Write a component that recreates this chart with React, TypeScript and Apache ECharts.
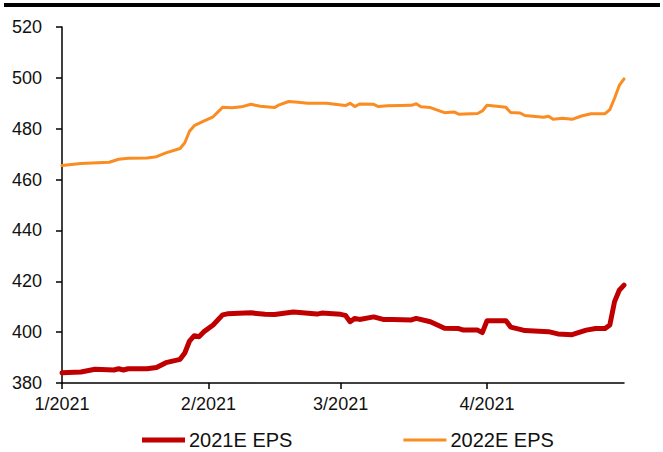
import React, { useEffect, useRef } from "react";
import * as echarts from "echarts";

// Calendar days from 1 Jan 2021 to 30 Apr 2021 (x categories)
const startDate = Date.UTC(2021, 0, 1);
const dayCount = 120;
const categories: string[] = Array.from({ length: dayCount }, (_, i) => {
  const d = new Date(startDate + i * 86400000);
  return `${d.getUTCMonth() + 1}/${d.getUTCDate()}/2021`;
});

// Month tick positions and their labels
const monthStartIdx = [0, 31, 59, 90];
const monthLabels = ["1/2021", "2/2021", "3/2021", "4/2021"];

const yTicks = { min: 380, max: 520, step: 20 };

const seriesNames = ["2021E EPS", "2022E EPS"];

// 2021E EPS readings (day index from 1 Jan, value)
const eps2021Days = [
  0, 4, 7, 11, 12, 13, 14, 18, 20, 22, 25, 26, 27, 28, 29, 30, 32, 34, 35, 40,
  43, 45, 49, 54, 55, 59, 60, 61, 62, 63, 66, 68, 70, 74, 75, 78, 81, 84, 85,
  88, 89, 90, 94, 95, 97, 98, 103, 105, 108, 111, 113, 115, 116, 117, 118, 119,
];
const eps2021Values = [
  384.0, 384.3, 385.4, 385.1, 385.6, 385.1, 385.6, 385.6, 386.1, 388.0, 389.3,
  391.8, 396.5, 398.6, 398.2, 400.1, 402.8, 406.8, 407.2, 407.6, 407.0, 406.9,
  407.9, 407.1, 407.5, 407.0, 406.6, 404.1, 405.4, 405.0, 406.0, 405.0, 405.0,
  404.8, 405.4, 404.1, 401.5, 401.4, 400.8, 400.8, 399.8, 404.5, 404.5, 402.0,
  401.1, 400.6, 400.2, 399.3, 399.0, 400.8, 401.4, 401.4, 402.8, 412.0, 416.5,
  418.5,
];

// 2022E EPS readings (day index from 1 Jan, value)
const eps2022Days = [
  0, 4, 10, 12, 14, 18, 20, 22, 25, 26, 27, 28, 30, 32, 34, 36, 38, 40, 42, 45,
  46, 48, 50, 52, 56, 60, 61, 62, 63, 66, 67, 69, 74, 75, 76, 78, 81, 83, 84,
  88, 89, 90, 94, 95, 97, 98, 102, 103, 104, 106, 108, 110, 112, 115, 116, 117,
  118, 119,
];
const eps2022Values = [
  465.5, 466.3, 466.8, 468.0, 468.4, 468.5, 469.0, 470.5, 472.2, 474.5, 479.0,
  481.2, 483.0, 484.7, 488.4, 488.2, 488.6, 489.6, 488.8, 488.3, 489.4, 490.7,
  490.4, 490.0, 490.0, 489.1, 490.0, 488.7, 489.7, 489.6, 488.7, 489.0, 489.2,
  489.8, 488.6, 488.3, 486.3, 486.6, 485.7, 486.0, 487.0, 489.2, 488.4, 486.4,
  486.2, 485.2, 484.5, 484.9, 483.7, 484.1, 483.7, 485.0, 485.9, 485.9, 487.5,
  492.0, 497.0, 499.6,
];

const RED = "#C00000";
const ORANGE = "#FA8C22";
const FONT = "Liberation Sans, Arial, sans-serif";

export default function App() {
  const ref = useRef<HTMLDivElement>(null);

  useEffect(() => {
    if (!ref.current) return;
    const chart = echarts.init(ref.current, undefined, { renderer: "svg" });
    const isMonthStart = (i: number) => monthStartIdx.indexOf(i) >= 0;

    chart.setOption({
      animation: false,
      backgroundColor: "#ffffff",
      grid: { left: 62, right: 39, top: 27, bottom: 69, containLabel: false },
      graphic: [
        {
          type: "rect",
          left: 4,
          top: 3,
          shape: { width: 656, height: 4 },
          style: { fill: "#000000" },
        },
      ],
      legend: {
        left: 137,
        top: 425,
        itemWidth: 43,
        itemHeight: 14,
        itemGap: 111,
        symbolKeepAspect: true,
        textStyle: { fontFamily: FONT, fontSize: 20, color: "#111111", padding: [0, 0, 0, -1] },
        data: [
          { name: seriesNames[0], icon: "path://M0,0H43V5H0Z", itemStyle: { color: RED } },
          { name: seriesNames[1], icon: "path://M0,0H43V3H0Z", itemStyle: { color: ORANGE } },
        ],
      },
      xAxis: {
        type: "category",
        data: categories,
        boundaryGap: false,
        axisLine: { show: true, lineStyle: { color: "#000000", width: 1.5 } },
        axisTick: {
          show: true,
          interval: (i: number) => isMonthStart(i),
          length: 6,
          lineStyle: { color: "#000000", width: 1.5 },
        },
        axisLabel: {
          interval: (i: number) => isMonthStart(i),
          formatter: (_v: string, i: number) => monthLabels[monthStartIdx.indexOf(i)] ?? "",
          fontFamily: FONT,
          fontSize: 18,
          color: "#111111",
          margin: 12,
        },
        splitLine: { show: false },
      },
      yAxis: {
        type: "value",
        min: yTicks.min,
        max: yTicks.max,
        interval: yTicks.step,
        axisLine: { show: true, lineStyle: { color: "#000000", width: 1.5 } },
        axisTick: { show: true, length: 6, lineStyle: { color: "#000000", width: 1.5 } },
        axisLabel: { fontFamily: FONT, fontSize: 18, color: "#111111", margin: 20 },
        splitLine: { show: false },
      },
      series: [
        {
          name: seriesNames[0],
          type: "line",
          data: eps2021Days.map((d, i) => [d, eps2021Values[i]]),
          showSymbol: false,
          symbol: "none",
          lineStyle: { color: RED, width: 5, cap: "round", join: "round" },
          itemStyle: { color: RED },
        },
        {
          name: seriesNames[1],
          type: "line",
          data: eps2022Days.map((d, i) => [d, eps2022Values[i]]),
          showSymbol: false,
          symbol: "none",
          lineStyle: { color: ORANGE, width: 3, cap: "round", join: "round" },
          itemStyle: { color: ORANGE },
        },
      ],
    });

    return () => chart.dispose();
  }, []);

  return <div ref={ref} style={{ width: 663, height: 452, position: "absolute", left: 0, top: 0 }} />;
}
